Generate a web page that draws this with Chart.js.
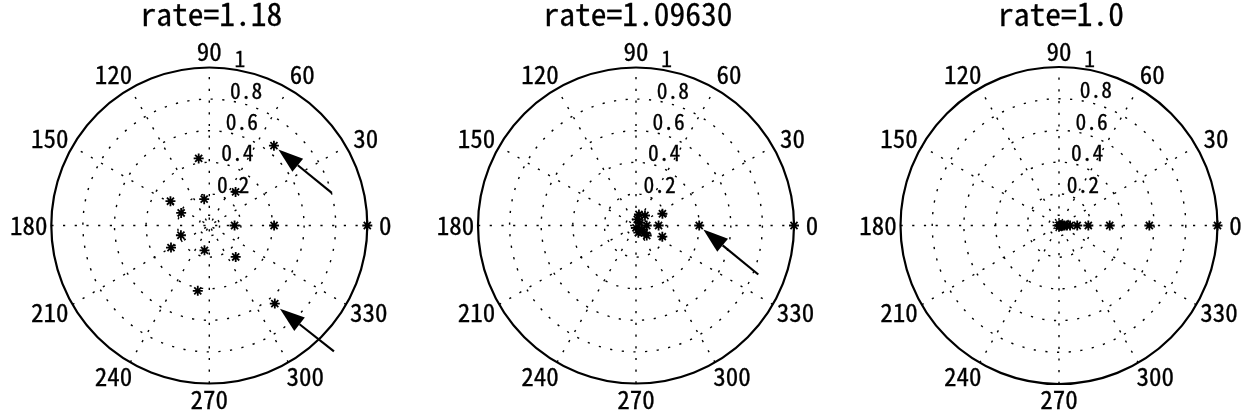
<!DOCTYPE html>
<html>
<head>
<meta charset="utf-8">
<script src="https://cdn.jsdelivr.net/npm/chart.js@4"></script>
<style>
html, body { margin: 0; padding: 0; background: #fff; }
#wrap { position: relative; width: 1251px; height: 419px; }
.panel { position: absolute; top: 0; width: 417px; height: 419px; }
</style>
</head>
<body>
<div id="wrap">
  <div class="panel" style="left:0px"><canvas id="p1" width="417" height="419"></canvas></div>
  <div class="panel" style="left:417px"><canvas id="p2" width="417" height="419"></canvas></div>
  <div class="panel" style="left:834px"><canvas id="p3" width="417" height="419"></canvas></div>
</div>
<script>
// values: radius (0..1) and angle in degrees
const titles = ['rate=1.18', 'rate=1.09630', 'rate=1.0'];

const r1  = [1.0, 0.41, 0.16, 0.65, 0.645, 0.27, 0.26, 0.43, 0.42, 0.17, 0.16, 0.29, 0.28, 0.195, 0.19];
const th1 = [0,   0,    0,    51,   310,   52,   310,  99,   260,  101,  259,  148,  210,  156,   199];

const r2  = [1.0, 0.40, 0.143, 0.183, 0.181, 0.085, 0.072, 0.068, 0.07, 0.048, 0.039, 0.015, 0.03, 0.044, 0.093];
const th2 = [0,   0,    0,     24,    337,   48,    75,    0,     319,  288,   78,    270,   34,   325,   317];

const r3  = [1.0, 0.57, 0.32, 0.185, 0.115, 0.07, 0.05, 0.035, 0.025, 0.017, 0.012, 0.008, 0.005, 0.003, 0.001];
const th3 = [0,   0,    0,    0,     0,     0,    0,    0,     0,     0,     0,     0,     0,     0,     0];

// arrows: [tail x, tail y, tip x, tip y] in plot units
const arrows1 = [[0.775, 0.207, 0.437, 0.481], [0.789, -0.797, 0.447, -0.527]];
const arrows2 = [[0.774, -0.31, 0.426, -0.025]];
const arrows3 = [];

const angleTicks = [0, 30, 60, 90, 120, 150, 180, 210, 240, 270, 300, 330];
const radialTicks = [0.2, 0.4, 0.6, 0.8, 1];
const radialLabels = ['0.2', '0.4', '0.6', '0.8', '1'];
const innerRing = 0.065;

const FONT = '"Noto Sans Mono CJK JP", "Noto Sans CJK JP", "DejaVu Sans Mono", monospace';

// draw text squeezed so every char is half an em wide (like MS Gothic)
function monoText(ctx, s, x, y, size, align, base) {
  ctx.font = size + 'px ' + FONT;
  const w = ctx.measureText(s).width;
  const k = (0.5 * size * s.length) / w;
  ctx.save();
  ctx.translate(x, y);
  ctx.scale(k, 1);
  ctx.textAlign = align;
  ctx.textBaseline = base;
  ctx.fillStyle = '#000';
  ctx.strokeStyle = '#000';
  ctx.lineWidth = 0.3;
  ctx.fillText(s, 0, 0);
  ctx.strokeText(s, 0, 0);
  ctx.restore();
}

const polarGrid = {
  id: 'polarGrid',
  beforeDatasetsDraw(chart, args, opts) {
    const ctx = chart.ctx;
    const xs = chart.scales.x, ys = chart.scales.y;
    const cx = xs.getPixelForValue(0), cy = ys.getPixelForValue(0);
    const R = xs.getPixelForValue(1) - cx;
    ctx.save();
    // dotted rings and spokes
    ctx.strokeStyle = '#000';
    ctx.lineWidth = 1.4;
    ctx.setLineDash([2.2, 9.5]);
    [innerRing].concat(radialTicks.slice(0, -1)).forEach(t => {
      ctx.beginPath();
      ctx.arc(cx, cy, t * R, 0, Math.PI * 2);
      ctx.stroke();
    });
    for (let a = 0; a < 180; a += 30) {
      const c = Math.cos(a * Math.PI / 180), s = Math.sin(a * Math.PI / 180);
      ctx.beginPath();
      ctx.moveTo(cx - c * R, cy + s * R);
      ctx.lineTo(cx + c * R, cy - s * R);
      ctx.stroke();
    }
    // outer solid circle
    ctx.setLineDash([]);
    ctx.lineWidth = 2.2;
    ctx.beginPath();
    ctx.arc(cx, cy, R, 0, Math.PI * 2);
    ctx.stroke();
    ctx.restore();

    // angle labels
    angleTicks.forEach(a => {
      const s = String(a);
      const size = 25;
      const w = 0.5 * size * s.length;
      const c = Math.cos(a * Math.PI / 180), sn = Math.sin(a * Math.PI / 180);
      const rad = 1.1 * R;
      const shift = Math.abs(c) > 0.9 ? 0.18 * w : 0.24 * w;
      monoText(ctx, s, cx + rad * c + Math.sign(Math.round(c * 1000)) * shift, cy - rad * sn, size, 'center', 'middle');
    });
    // radial labels at 82 degrees
    const c82 = Math.cos(82 * Math.PI / 180), s82 = Math.sin(82 * Math.PI / 180);
    radialTicks.forEach((t, i) => {
      monoText(ctx, radialLabels[i], cx + (t + 0.01) * c82 * R + 3, cy - (t + 0.01) * s82 * R, 21.5, 'left', 'alphabetic');
    });
    // title
    monoText(ctx, opts.title, cx + 2, 26, 31.5, 'center', 'alphabetic');
  },
  afterDatasetsDraw(chart, args, opts) {
    const ctx = chart.ctx;
    const xs = chart.scales.x, ys = chart.scales.y;
    ctx.save();
    ctx.strokeStyle = '#000';
    ctx.fillStyle = '#000';
    ctx.lineWidth = 2.2;
    (opts.arrows || []).forEach(ar => {
      const x0 = xs.getPixelForValue(ar[0]), y0 = ys.getPixelForValue(ar[1]);
      const x1 = xs.getPixelForValue(ar[2]), y1 = ys.getPixelForValue(ar[3]);
      const len = Math.hypot(x1 - x0, y1 - y0);
      const ux = (x1 - x0) / len, uy = (y1 - y0) / len;
      const hl = 25, hw = 8.5;
      const bx = x1 - ux * hl, by = y1 - uy * hl;
      ctx.beginPath();
      ctx.moveTo(x0, y0);
      ctx.lineTo(bx, by);
      ctx.stroke();
      ctx.beginPath();
      ctx.moveTo(x1, y1);
      ctx.lineTo(bx - uy * hw, by + ux * hw);
      ctx.lineTo(bx + uy * hw, by - ux * hw);
      ctx.closePath();
      ctx.fill();
    });
    ctx.restore();
  }
};

function makeChart(id, title, r, th, arrows, cx, cy, R) {
  const pts = r.map((v, i) => ({
    x: v * Math.cos(th[i] * Math.PI / 180),
    y: v * Math.sin(th[i] * Math.PI / 180),
  }));
  new Chart(document.getElementById(id), {
    type: 'scatter',
    data: {
      datasets: [{
        data: pts,
        pointStyle: 'star',
        pointRadius: 5,
        pointBorderColor: '#000',
        pointBackgroundColor: '#000',
        pointBorderWidth: 1.8,
        clip: false,
      }],
    },
    options: {
      responsive: false,
      animation: false,
      layout: {
        padding: { left: cx - R, right: 417 - cx - R, top: cy - R, bottom: 419 - cy - R },
      },
      scales: {
        x: { type: 'linear', min: -1, max: 1, display: false },
        y: { type: 'linear', min: -1, max: 1, display: false },
      },
      plugins: {
        legend: { display: false },
        tooltip: { enabled: false },
        polarGrid: { title: title, arrows: arrows },
      },
    },
    plugins: [polarGrid],
  });
}

makeChart('p1', titles[0], r1, th1, arrows1, 209.3, 225.5, 158);
makeChart('p2', titles[1], r2, th2, arrows2, 219, 225.5, 158);
makeChart('p3', titles[2], r3, th3, arrows3, 225, 225.5, 158.5);
</script>
</body>
</html>
